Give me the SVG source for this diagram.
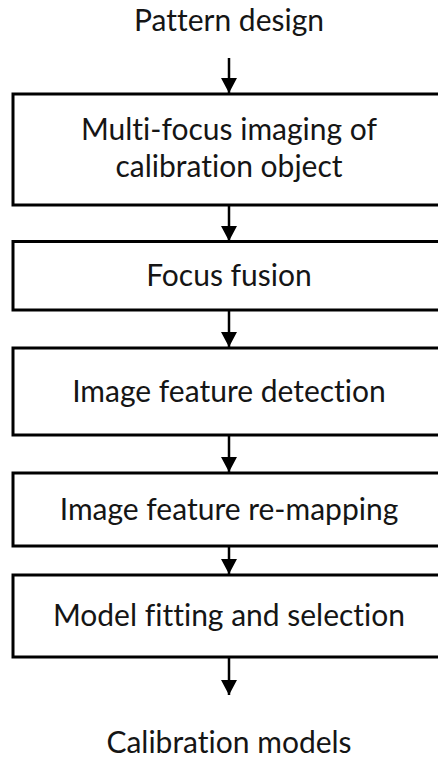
<svg xmlns="http://www.w3.org/2000/svg" width="438" height="759" viewBox="0 0 438 759">
  <style>
    .box { fill: #ffffff; stroke: #000000; stroke-width: 3; }
    .lbl { font-family: Lato, "Liberation Sans", sans-serif; font-size: 30px; fill: #151515; text-anchor: middle; font-variant-ligatures: none; }
    .flow { stroke: #000000; stroke-width: 2.5; fill: none; marker-end: url(#head); }
  </style>
  <defs>
    <marker id="head" markerUnits="userSpaceOnUse" markerWidth="16" markerHeight="16" refX="15" refY="8" orient="auto">
      <path d="M0,0 L15,8 L0,16 Z" fill="#000000"/>
    </marker>
  </defs>
  <rect width="438" height="759" fill="#ffffff"/>

  <g id="start">
    <text class="lbl" x="229" y="31">Pattern design</text>
  </g>

  <g id="step-imaging">
    <rect class="box" x="13" y="94" width="432" height="111"/>
    <text class="lbl" x="229" y="140">Multi-focus imaging of</text>
    <text class="lbl" x="229" y="177">calibration object</text>
  </g>

  <g id="step-fusion">
    <rect class="box" x="13" y="241.5" width="432" height="68.5"/>
    <text class="lbl" x="229" y="286">Focus fusion</text>
  </g>

  <g id="step-detection">
    <rect class="box" x="13" y="348" width="432" height="87"/>
    <text class="lbl" x="229" y="402">Image feature detection</text>
  </g>

  <g id="step-remapping">
    <rect class="box" x="13" y="473" width="432" height="73"/>
    <text class="lbl" x="229" y="520">Image feature re-mapping</text>
  </g>

  <g id="step-fitting">
    <rect class="box" x="13" y="575" width="432" height="82"/>
    <text class="lbl" x="229" y="626">Model fitting and selection</text>
  </g>

  <g id="end">
    <text class="lbl" x="229" y="753">Calibration models</text>
  </g>

  <g id="connectors">
    <line class="flow" x1="229" y1="58" x2="229" y2="93"/>
    <line class="flow" x1="229" y1="206" x2="229" y2="241"/>
    <line class="flow" x1="229" y1="311" x2="229" y2="347"/>
    <line class="flow" x1="229" y1="436" x2="229" y2="472"/>
    <line class="flow" x1="229" y1="547" x2="229" y2="574"/>
    <line class="flow" x1="229" y1="658" x2="229" y2="695"/>
  </g>
</svg>
